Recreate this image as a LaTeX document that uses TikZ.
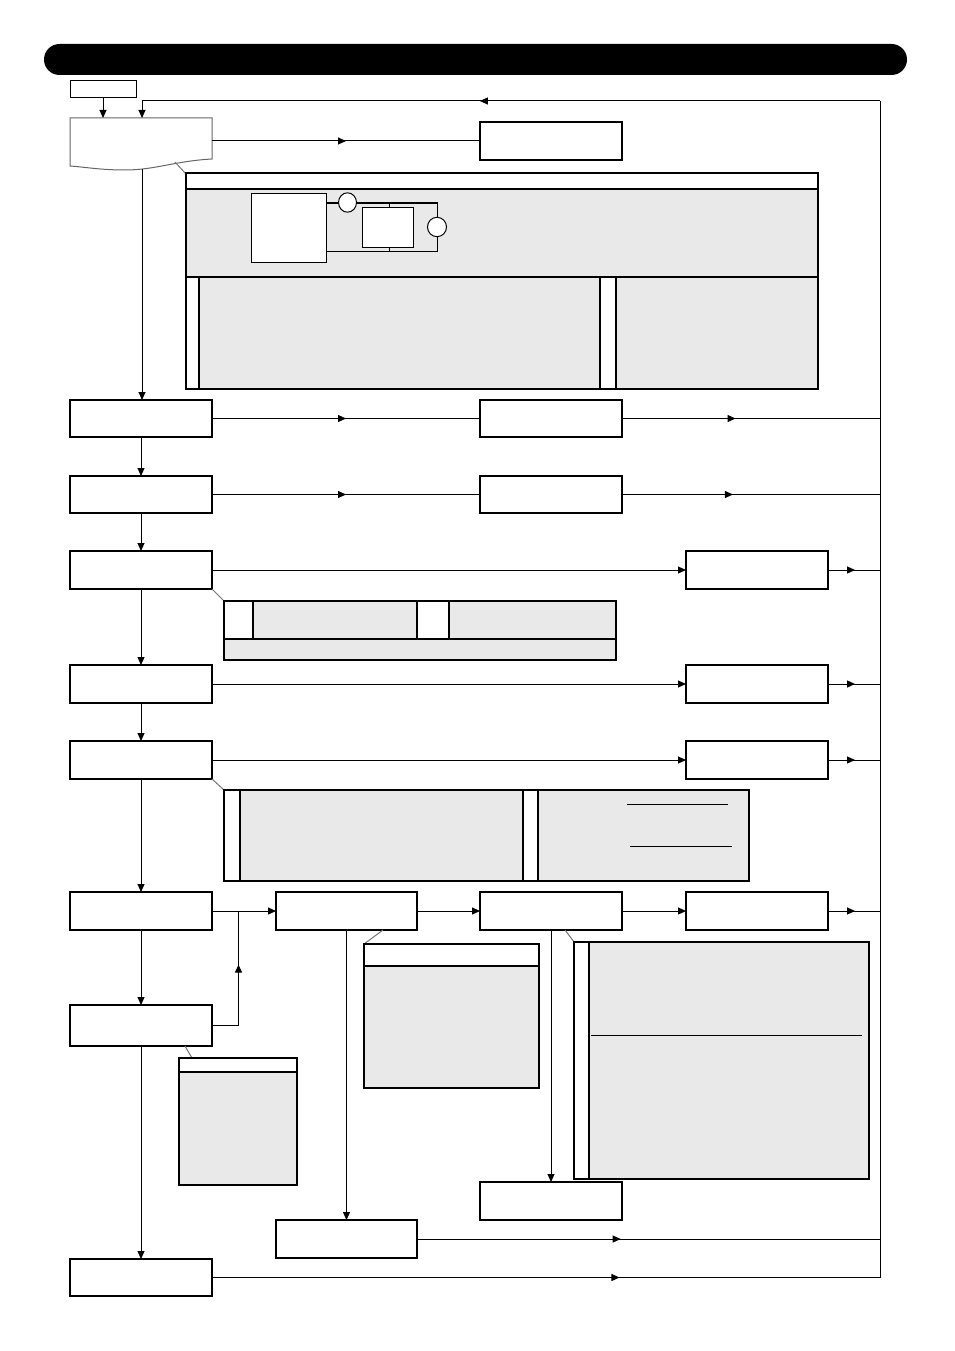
\documentclass[tikz,border=0pt]{standalone}
\usetikzlibrary{arrows.meta,decorations.markings}
\definecolor{panelgray}{HTML}{E9E9E9}
\begin{document}
\begin{tikzpicture}[x=1pt,y=-1pt,
  box/.style={draw, line width=1.6pt, fill=white, minimum width=142pt, minimum height=38pt, inner sep=0pt, outer sep=0pt, anchor=north west},
  conn/.style={line width=1pt},
  tip/.style={-{Triangle[length=8pt,width=7pt]}},
  midarrow/.style={postaction={decorate}, decoration={markings, mark=at position #1 with {\arrow{Triangle[length=8pt,width=7pt]}}}},
  pfill/.style={draw, line width=1.2pt, fill=panelgray},
  wfill/.style={draw, line width=1.2pt, fill=white},
  thin/.style={line width=1pt},
  callout/.style={draw=black!55, line width=1pt}]
\useasboundingbox (0,0) rectangle (954,1351);
% header bar
\fill[rounded corners=15.5pt] (44,44) rectangle (907,75);

% nodes
\node[box, line width=1pt, minimum width=66pt, minimum height=17pt] (s0) at (70,81) {};
\node[box] (b1) at (480,122) {};
\node[box, minimum height=37pt] (a3) at (70,400) {};
\node[box, minimum height=37pt] (b3) at (480,400) {};
\node[box, minimum height=37pt] (a4) at (70,476) {};
\node[box, minimum height=37pt] (b4) at (480,476) {};
\node[box] (a5) at (70,551) {};
\node[box] (c5) at (686,551) {};
\node[box] (a6) at (70,665) {};
\node[box] (c6) at (686,665) {};
\node[box] (a7) at (70,741) {};
\node[box] (c7) at (686,741) {};
\node[box] (a8) at (70,892) {};
\node[box, minimum width=141pt] (d8) at (276,892) {};
\node[box] (e8) at (480,892) {};
\node[box] (f8) at (686,892) {};
\node[box, minimum height=41pt] (a9) at (70,1005) {};
\node[box] (h) at (480,1182) {};
\node[box, minimum width=141pt] (g) at (276,1220) {};
\node[box, minimum height=37pt] (a10) at (70,1259) {};

% document shape
\draw[line width=1pt, draw=black!60, fill=white] (70,118) -- (212,118) -- (212,159)
  .. controls (175,161) and (155,170) .. (125,170)
  .. controls (100,170) and (85,167) .. (70,166) -- cycle;
\coordinate (docr) at (212,141);
\coordinate (docb) at (142,169);
\coordinate (doct1) at (103,118);
\coordinate (doct2) at (142,118);

% bus
\coordinate (bt) at (880,101);
\coordinate (bb) at (880,1277.5);
\coordinate (lt) at (142,101);
\draw[conn] (bt) -- (bb);

% connectors
\draw[conn, tip] (s0.south) -- (doct1);
\draw[conn, tip, midarrow=0.53] (bt) -- (lt) -- (doct2);
\draw[conn, midarrow=0.5] (docr) -- (b1.west);
\draw[conn, tip] (docb) -- (a3.north -| docb);

\draw[conn, midarrow=0.5] (a3.east) -- (b3.west);
\draw[conn, midarrow=0.44] (b3.east) -- (b3.east -| bt);
\draw[conn, tip] (a3.south) -- (a4.north);

\draw[conn, midarrow=0.5] (a4.east) -- (b4.west);
\draw[conn, midarrow=0.43] (b4.east) -- (b4.east -| bt);
\draw[conn, tip] (a4.south) -- (a5.north);

\draw[conn, tip] (a5.east) -- (c5.west);
\draw[conn, midarrow=0.52] (c5.east) -- (c5.east -| bt);
\draw[conn, tip] (a5.south) -- (a6.north);

\draw[conn, tip] (a6.east) -- (c6.west);
\draw[conn, midarrow=0.52] (c6.east) -- (c6.east -| bt);
\draw[conn, tip] (a6.south) -- (a7.north);

\draw[conn, tip] (a7.east) -- (c7.west);
\draw[conn, midarrow=0.52] (c7.east) -- (c7.east -| bt);
\draw[conn, tip] (a7.south) -- (a8.north);

\coordinate (j1) at (238.5,911);
\draw[conn, tip] (a8.east) -- (d8.west);
\draw[conn, midarrow=0.62] (a9.east) -| (j1);
\draw[conn, tip] (d8.east) -- (e8.west);
\draw[conn, tip] (e8.east) -- (f8.west);
\draw[conn, midarrow=0.52] (f8.east) -- (f8.east -| bt);
\draw[conn, tip] (a8.south) -- (a9.north);
\draw[conn, tip] (a9.south) -- (a10.north);
\draw[conn, tip] (d8.south) -- (g.north);
\draw[conn, tip] (e8.south) -- (h.north);
\draw[conn, midarrow=0.44] (g.east) -- (g.east -| bt);
\draw[conn, midarrow=0.61] (a10.east) -- (bb);

% panel 1
\draw[callout] (175,162) -- (186,174);
\filldraw[pfill] (186,173) rectangle (818,389);
\filldraw[wfill] (186,173) rectangle (818,189);
\draw[line width=1.2pt] (186,277) -- (818,277);
\filldraw[wfill] (186,277) rectangle (199,389);
\filldraw[wfill] (600,277) rectangle (616,389);
\filldraw[thin, fill=white] (251.5,193.5) rectangle (326,262);
\draw[thin] (326,203) -- (338.5,203);
\filldraw[thin, fill=white] (347.5,202.5) ellipse [x radius=9pt, y radius=9.7pt];
\draw[thin] (356.5,203) -- (437,203) -- (437,217);
\filldraw[thin, fill=white] (437,227) ellipse [x radius=9.5pt, y radius=9.7pt];
\draw[thin] (437,236.7) -- (437,251) -- (326,251);
\filldraw[thin, fill=white] (362.5,207.5) rectangle (413.5,247.5);
\draw[thin] (389,203) -- (389,207.5);
\draw[thin] (389,247.5) -- (389,251);

% panel 5
\draw[callout] (212,589) -- (224,601);
\filldraw[pfill] (224,601) rectangle (616,660);
\filldraw[wfill] (224,601) rectangle (253,639);
\filldraw[wfill] (417,601) rectangle (449,639);
\draw[line width=1.2pt] (224,639) -- (616,639);

% panel 7
\draw[callout] (212,779) -- (224,790);
\filldraw[pfill] (224,790) rectangle (749,881);
\filldraw[wfill] (224,790) rectangle (240,881);
\filldraw[wfill] (523,790) rectangle (538,881);
\draw[thin] (627,804) -- (728,804);
\draw[thin] (630,846) -- (732,846);

% panel D
\draw[callout] (383,930) -- (364,944);
\filldraw[pfill] (364,944) rectangle (539,1088);
\filldraw[wfill] (364,944) rectangle (539,966);

% panel A9
\draw[callout] (185,1046) -- (192,1058);
\filldraw[pfill] (179,1058) rectangle (297,1185);
\filldraw[wfill] (179,1058) rectangle (297,1072);

% panel E
\draw[callout] (565,930) -- (574,942);
\filldraw[pfill] (574,942) rectangle (869,1179);
\filldraw[wfill] (574,942) rectangle (589,1179);
\draw[thin] (591,1035) -- (862,1035);
\end{tikzpicture}
\end{document}
